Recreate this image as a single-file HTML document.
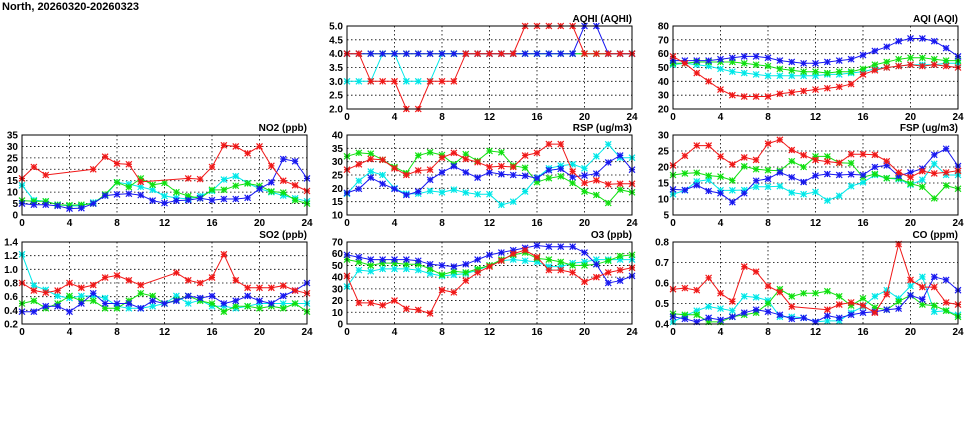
<!DOCTYPE html>
<html><head><meta charset="utf-8"><style>
html,body{margin:0;padding:0;background:#fff;width:975px;height:447px;overflow:hidden}
svg{display:block}
text{font-family:"Liberation Sans",sans-serif;font-weight:bold;font-size:10px;fill:#000}
</style></head><body>
<svg id="s" width="975" height="447" xmlns="http://www.w3.org/2000/svg">
<text x="2" y="10" style="font-size:11px">North, 20260320-20260323</text>
</svg>
<script>
var C=["#00e8e8","#10e010","#1818f0","#f01818"];
var P=[
{x:347,y:26,h:83,mn:2,mx:5,yl:["2.0","2.5","3.0","3.5","4.0","4.5","5.0"],t:"AQHI (AQHI)",d:[
[3,3,3,4,4,3,3,3,4,4,4,4,4,4,4,4,4,4,4,4,4,4,4,4,4],
[4,4,4,4,4,4,4,4,4,4,4,4,4,4,4,4,4,4,4,4,4,4,4,4,4],
[4,4,4,4,4,4,4,4,4,4,4,4,4,4,4,4,4,4,4,4,5,5,4,4,4],
[4,4,3,3,3,2,2,3,3,3,4,4,4,4,4,5,5,5,5,5,4,4,4,4,4]]},
{x:673,y:26,h:83,mn:20,mx:80,yl:["20","30","40","50","60","70","80"],t:"AQI (AQI)",d:[
[52,53,52,51,49,47,46,45,44,44,44,44,44,45,45,46,47,49,50,51,52,52,52,53,53],
[53,53,54,54,54,54,53,52,51,49,48,47,47,46,47,47,49,52,54,56,57,57,56,55,55],
[55,55,55,55,56,57,58,58,57,55,54,53,53,54,55,56,59,62,65,69,71,71,69,64,58],
[58,53,46,40,34,30,29,29,29,31,32,33,34,35,36,38,45,48,50,51,52,51,52,51,50]]},
{x:22,y:135,h:80,mn:0,mx:35,yl:["0","5","10","15","20","25","30","35"],t:"NO2 (ppb)",d:[
[13,6.5,6,4.5,4,4,5.5,8.5,14.3,13.5,12.3,11,8.3,7.5,7,8.3,10.5,15.5,17,14,11.5,10,8.5,7.3,6],
[6.3,6,6,4.5,4.3,4.5,5,9,14.3,12.2,16,13.2,14,10,8.3,7.3,11,11,12.8,13.8,12.8,10.3,9.8,6.5,5],
[5,4.5,4.5,4,2.8,3,5,8.5,9,9.3,8.7,6.3,5.2,6.3,6.5,7.3,6.5,7,7,7.5,11.5,14.3,24.5,23.5,16],
[16,21,17.5,null,null,null,20,25.5,22.5,22.2,14.5,null,null,null,16,15.7,21,30.5,30,27,30,21.5,15,13,10.5]]},
{x:347,y:135,h:80,mn:10,mx:40,yl:["10","15","20","25","30","35","40"],t:"RSP (ug/m3)",d:[
[18,22.8,26.3,25,20,18,18,19,18.5,19.5,18.4,17.8,17.8,13.8,15,18.8,24,27.5,28.5,29,27.5,32,36.5,31.5,31.5],
[32,33.3,33,30.7,28,25.7,32.3,33.5,32.5,29,32.8,30.3,34,33.5,28.5,27.7,22.3,23.8,24.5,22,18.8,17.5,14.5,19.5,18.5],
[18.3,19.8,24,21.7,19.8,17.5,18.8,23.2,26,28.3,26,24,26,25.3,25,24.7,23.8,26.8,27.3,24.2,24.8,25.5,29.7,32.3,27],
[27,29,31,30.7,27.5,25,26.7,27,31.5,33.3,31,29.8,28,28.3,28,32.3,33.3,36.6,36.6,26.3,22,23,21.5,21.7,21.7]]},
{x:673,y:135,h:80,mn:5,mx:30,yl:["5","10","15","20","25","30"],t:"FSP (ug/m3)",d:[
[11.5,12.7,15.5,16,12.7,12.7,12.8,13.8,13.8,14,12,11.5,12.2,9.5,11,14,15.2,17.5,16.5,16.2,14.5,16,21,17.5,17.5],
[17.5,18,18.2,17.3,17,15.8,20.2,19.3,19,18.8,21.8,20,23.3,23.3,21.3,21.2,16.8,17.8,16.5,16.5,14.8,13.8,10.2,14.2,13.2],
[13,12.8,14.3,12.5,11.8,9,11.8,15.7,16.3,18.3,16.8,15.3,17.3,17.8,17.5,17.7,17.5,20,20.5,17.2,18.3,19.5,23.8,25.7,20.3],
[20.5,23.5,26.7,26.7,23.3,20.8,23,22.2,27.3,28.5,25.3,23.7,22.2,21.7,21.3,24,24,23.8,21.8,18.3,16.8,18.7,18,18.3,18.8]]},
{x:22,y:242,h:82,mn:0.2,mx:1.4,yl:["0.2","0.4","0.6","0.8","1.0","1.2","1.4"],t:"SO2 (ppb)",d:[
[1.22,.76,.7,.61,.58,.61,.61,.58,.46,.43,.43,.46,.5,.61,.5,.55,.46,.46,.43,.46,.5,.5,.5,.5,.5],
[.5,.54,.43,.5,.61,.54,.54,.43,.43,.54,.65,.61,.5,.55,.61,.54,.5,.38,.46,.46,.43,.46,.43,.5,.38],
[.38,.38,.46,.46,.38,.5,.65,.5,.5,.5,.43,.54,.5,.54,.61,.58,.61,.5,.54,.61,.54,.5,.61,.69,.8],
[.8,.69,.66,.69,.8,.73,.77,.88,.91,.84,.77,null,null,.95,.84,.8,.88,1.22,.84,.73,.73,.73,.76,.69,.65]]},
{x:347,y:242,h:82,mn:0,mx:70,yl:["0","10","20","30","40","50","60","70"],t:"O3 (ppb)",d:[
[32,46,45,47,47,47,46,43,41,42,43,46,50,54,55,54,53,49,49,52,53,55,55,55,55],
[55,53,50,52,52,51,51,47,42,45,44,47,50,55,59,61,56,55,53,50,50,51,54,58,59],
[59,57,55,55,55,55,54,51,50,49,51,55,59,61,63,65,67,66,66,66,61,51,35,37,41],
[41,18,18,16,20,13,12,9,29,27,37,44,49,54,60,63,57,46,46,44,36,40,44,46,48]]},
{x:673,y:242,h:82,mn:0.4,mx:0.8,yl:["0.4","0.5","0.6","0.7","0.8"],t:"CO (ppm)",d:[
[.41,.44,.465,.485,.475,.465,.535,.53,.515,.435,.435,.43,.41,.415,.415,.455,.485,.535,.565,.525,.585,.63,.46,.465,.445],
[.45,.445,.445,.41,.41,.435,.445,.455,.5,.57,.535,.55,.55,.56,.535,.49,.525,.48,.47,.51,.54,.495,.49,.465,.435],
[.435,.425,.41,.43,.42,.435,.455,.47,.46,.445,.425,.43,.41,.44,.43,.445,.455,.46,.47,.475,.54,.52,.63,.615,.565],
[.57,.575,.565,.625,.55,.51,.68,.655,.585,.555,.485,null,null,.47,.495,.505,.49,.455,.545,.79,.615,.58,.58,.505,.495]]}
];
var XL=["0","4","8","12","16","20","24"];
var s="",W=285;
P.forEach(function(p){
 var X=function(h){return p.x+h*W/24},Y=function(v){return p.y+p.h-(v-p.mn)/(p.mx-p.mn)*p.h};
 var n=p.yl.length;
 for(var i=0;i<n;i++){var yy=p.y+p.h-i*p.h/(n-1);
  if(i>0&&i<n-1)s+='<line x1="'+p.x+'" x2="'+(p.x+W)+'" y1="'+yy+'" y2="'+yy+'" stroke="#000" stroke-width="0.8" stroke-dasharray="1.5,2.5"/>';
  s+='<text x="'+(p.x-4)+'" y="'+(yy+3.5)+'" text-anchor="end">'+p.yl[i]+'</text>';}
 for(var j=0;j<7;j++){var xx=p.x+j*W/6;
  if(j>0&&j<6)s+='<line x1="'+xx+'" x2="'+xx+'" y1="'+p.y+'" y2="'+(p.y+p.h)+'" stroke="#000" stroke-width="0.8" stroke-dasharray="1.5,2.5"/>';
  s+='<text x="'+xx+'" y="'+(p.y+p.h+11)+'" text-anchor="middle">'+XL[j]+'</text>';}
 p.d.forEach(function(a,k){
  var pts=[];a.forEach(function(v,h){if(v!==null)pts.push(X(h).toFixed(1)+','+Y(v).toFixed(1));});
  s+='<polyline fill="none" stroke="'+C[k]+'" stroke-width="1" points="'+pts.join(' ')+'"/>';
  a.forEach(function(v,h){if(v===null)return;var cx=X(h),cy=Y(v),r=3;
   s+='<path d="M'+(cx-r)+' '+(cy-r)+'L'+(cx+r)+' '+(cy+r)+'M'+(cx-r)+' '+(cy+r)+'L'+(cx+r)+' '+(cy-r)+'M'+(cx-r)+' '+cy+'L'+(cx+r)+' '+cy+'M'+cx+' '+(cy-r)+'L'+cx+' '+(cy+r)+'" stroke="'+C[k]+'" stroke-width="1.2" fill="none"/>';});
 });
 s+='<rect x="'+p.x+'" y="'+p.y+'" width="'+W+'" height="'+p.h+'" fill="none" stroke="#000" stroke-width="1"/>';
 s+='<text x="'+(p.x+W)+'" y="'+(p.y-4)+'" text-anchor="end">'+p.t+'</text>';
});
document.getElementById("s").insertAdjacentHTML("beforeend",s);
</script>
</body></html>
